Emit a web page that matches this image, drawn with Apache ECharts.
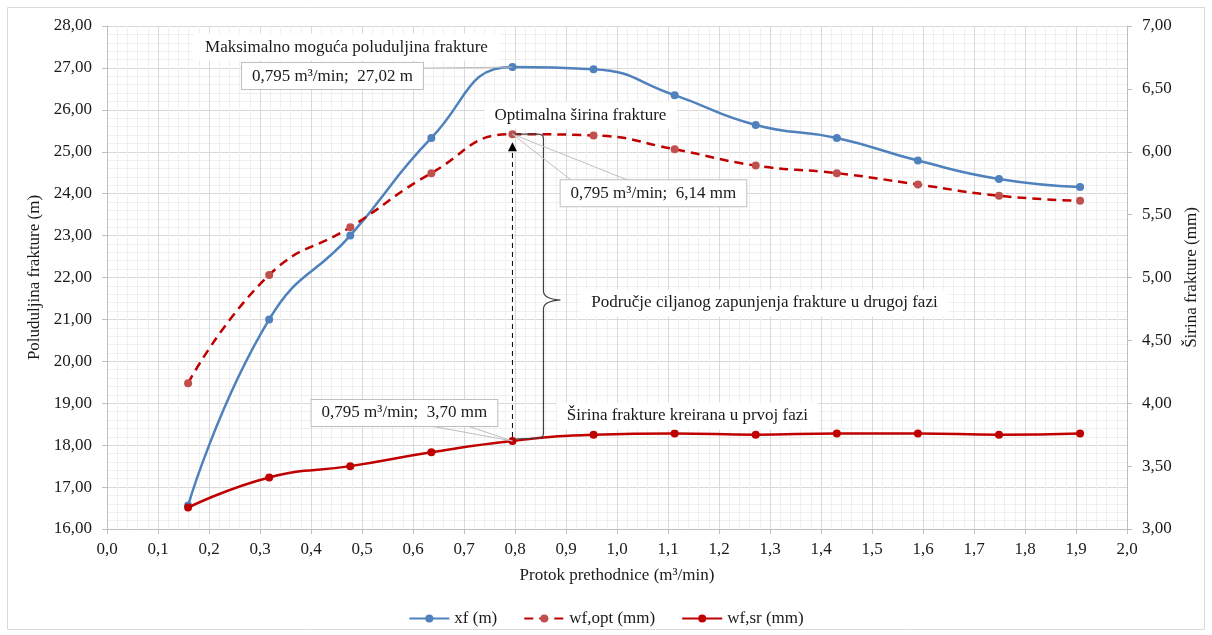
<!DOCTYPE html>
<html><head><meta charset="utf-8">
<script src="https://cdn.jsdelivr.net/npm/echarts@6/dist/echarts.min.js"></script>
<style>html,body{margin:0;padding:0;background:#fff}#c{width:1212px;height:635px}</style>
</head><body><div id="c"></div>
<script>
// ---- data ----
const flowRates   = [0.159, 0.318, 0.477, 0.636, 0.795, 0.954, 1.113, 1.272, 1.431, 1.590, 1.749, 1.908];
const xfValues    = [16.56, 21.00, 23.00, 25.33, 27.02, 26.97, 26.35, 25.64, 25.33, 24.79, 24.35, 24.16];
const wfOptValues = [4.16, 5.02, 5.40, 5.83, 6.14, 6.13, 6.02, 5.89, 5.83, 5.74, 5.65, 5.61];
const wfSrValues  = [3.17, 3.41, 3.50, 3.61, 3.70, 3.75, 3.76, 3.75, 3.76, 3.76, 3.75, 3.76];
const seriesNames = ['xf (m)', 'wf,opt (mm)', 'wf,sr (mm)'];
const axisNames   = ['Protok prethodnice (m³/min)', 'Poluduljina frakture (m)', 'Širina frakture (mm)'];
const optimumIndex = 4;
const annoMaxTitle = 'Maksimalno moguća poluduljina frakture';
const annoOptTitle = 'Optimalna širina frakture';
const annoSrTitle  = 'Širina frakture kreirana u prvoj fazi';
const annoRange    = 'Područje ciljanog zapunjenja frakture u drugoj fazi';

const FONT = '"Liberation Serif", "Times New Roman", serif';
const TXT = '#1a1a1a';
const fmt = (d) => (v) => v.toFixed(d).replace('.', ',');
const pairs = (ys) => flowRates.map((x, i) => [x, ys[i]]);

const chart = echarts.init(document.getElementById('c'), null, {renderer: 'canvas'});

const axisCommon = {
  axisLine: {show: true, lineStyle: {color: '#BFBFBF', width: 1}},
  axisTick: {show: true, inside: false, length: 5, lineStyle: {color: '#BFBFBF'}},
  axisLabel: {color: TXT, fontSize: 17, fontFamily: FONT},
  nameTextStyle: {color: TXT, fontSize: 17, fontFamily: FONT},
  minorTick: {show: false, splitNumber: 5},
};

chart.setOption({
  animation: false,
  backgroundColor: '#fff',
  grid: {left: 107, right: 85, top: 26, bottom: 106, containLabel: false},
  legend: {
    bottom: 3, left: 'center', itemWidth: 40, itemHeight: 10, itemGap: 26,
    textStyle: {color: TXT, fontSize: 17, fontFamily: FONT},
    data: seriesNames
  },
  xAxis: Object.assign({}, axisCommon, {
    type: 'value', min: 0, max: 2, interval: 0.1,
    name: axisNames[0], nameLocation: 'middle', nameGap: 38,
    axisLabel: Object.assign({}, axisCommon.axisLabel, {formatter: fmt(1), margin: 12}),
    splitLine: {show: true, lineStyle: {color: '#D9D9D9', width: 1}},
    minorSplitLine: {show: true, lineStyle: {color: '#EFEFEF', width: 1}}
  }),
  yAxis: [
    Object.assign({}, axisCommon, {
      type: 'value', min: 16, max: 28, interval: 1, position: 'left',
      name: axisNames[1], nameLocation: 'middle', nameGap: 62, nameRotate: 90,
      axisLabel: Object.assign({}, axisCommon.axisLabel, {formatter: fmt(2), margin: 15}),
      splitLine: {show: true, lineStyle: {color: '#D9D9D9', width: 1}},
      minorSplitLine: {show: true, lineStyle: {color: '#EFEFEF', width: 1}}
    }),
    Object.assign({}, axisCommon, {
      type: 'value', min: 3, max: 7, interval: 0.5, position: 'right',
      name: axisNames[2], nameLocation: 'middle', nameGap: 54, nameRotate: 90,
      axisLabel: Object.assign({}, axisCommon.axisLabel, {formatter: fmt(2), margin: 15}),
      splitLine: {show: false}
    })
  ],
  series: [
    {
      name: seriesNames[0], type: 'line', yAxisIndex: 0, data: pairs(xfValues),
      smooth: 0.5, symbol: 'circle', symbolSize: 8, z: 3,
      lineStyle: {color: '#4F81BD', width: 2.5},
      itemStyle: {color: '#4F81BD'}
    },
    {
      name: seriesNames[1], type: 'line', yAxisIndex: 1, data: pairs(wfOptValues),
      smooth: 0.5, symbol: 'circle', symbolSize: 8, z: 4,
      lineStyle: {color: '#C00000', width: 2.5, type: [9, 6]},
      itemStyle: {color: '#C0504D'}
    },
    {
      name: seriesNames[2], type: 'line', yAxisIndex: 1, data: pairs(wfSrValues),
      smooth: 0.5, symbol: 'circle', symbolSize: 8, z: 5,
      lineStyle: {color: '#C00000', width: 2.5},
      itemStyle: {color: '#C00000'}
    }
  ]
});

// ---- annotations anchored to data points ----
const x0 = flowRates[optimumIndex];
const P1 = chart.convertToPixel({xAxisIndex: 0, yAxisIndex: 0}, [x0, xfValues[optimumIndex]]);
const P2 = chart.convertToPixel({xAxisIndex: 0, yAxisIndex: 1}, [x0, wfOptValues[optimumIndex]]);
const P3 = chart.convertToPixel({xAxisIndex: 0, yAxisIndex: 1}, [x0, wfSrValues[optimumIndex]]);

const lbl1 = '0,795 m³/min;  ' + fmt(2)(xfValues[optimumIndex]) + ' m';
const lbl2 = '0,795 m³/min;  ' + fmt(2)(wfOptValues[optimumIndex]) + ' mm';
const lbl3 = '0,795 m³/min;  ' + fmt(2)(wfSrValues[optimumIndex]) + ' mm';

function plainText(text, cx, cy, padH) {
  return {type: 'text', z: 100, style: {
    text, x: cx, y: cy, align: 'center', verticalAlign: 'middle',
    fontSize: 17, fontFamily: FONT, fill: TXT,
    backgroundColor: '#fff', padding: [5, padH || 10, 5, padH || 10]
  }};
}
function boxText(text, cx, cy) {
  return {type: 'text', z: 100, style: {
    text, x: cx, y: cy, align: 'center', verticalAlign: 'middle',
    fontSize: 17, fontFamily: FONT, fill: TXT,
    backgroundColor: '#fff', borderColor: '#BFBFBF', borderWidth: 1, padding: [5, 10, 4, 10]
  }};
}
function leader(x1, y1, x2, y2) {
  return {type: 'line', z: 99, shape: {x1, y1, x2, y2}, style: {stroke: '#BFBFBF', lineWidth: 1}};
}
// sample a quadratic curve into points
function quad(a, c, b, n) {
  const pts = [];
  for (let i = 1; i <= n; i++) {
    const t = i / n, u = 1 - t;
    pts.push([u * u * a[0] + 2 * u * t * c[0] + t * t * b[0], u * u * a[1] + 2 * u * t * c[1] + t * t * b[1]]);
  }
  return pts;
}

const bx = P2[0] + 31, topY = P2[1], botY = P3[1] - 3, tipY = P3[1] - 141;
let bracePts = [[P2[0] + 2, topY], [bx - 5, topY]];
bracePts = bracePts.concat(quad([bx - 5, topY], [bx, topY], [bx, topY + 5], 6));
bracePts.push([bx, tipY - 9]);
bracePts = bracePts.concat(quad([bx, tipY - 9], [bx, tipY - 1], [bx + 17, tipY], 8));
bracePts = bracePts.concat(quad([bx + 17, tipY], [bx, tipY + 1], [bx, tipY + 9], 8));
bracePts.push([bx, botY - 5]);
bracePts = bracePts.concat(quad([bx, botY - 5], [bx, botY], [bx - 5, botY], 6));
bracePts.push([P3[0] + 2, botY + 1]);

chart.setOption({
  graphic: [
    {type: 'rect', z: 0, silent: true, shape: {x: 7.5, y: 7.5, width: 1197, height: 622},
     style: {fill: 'none', stroke: '#D9D9D9', lineWidth: 1}},
    // max xf
    plainText(annoMaxTitle, P1[0] - 166, P1[1] - 20, 12),
    leader(P1[0] - 91, P1[1] + 1, P1[0], P1[1]),
    boxText(lbl1, P1[0] - 180, P1[1] + 9),
    // optimal width
    plainText(annoOptTitle, P2[0] + 68, P2[1] - 19, 10),
    leader(P2[0], P2[1], P2[0] + 60, P2[1] + 47),
    leader(P2[0], P2[1], P2[0] + 118, P2[1] + 47),
    boxText(lbl2, P2[0] + 141, P2[1] + 59),
    // first phase width
    leader(P3[0] - 82, P3[1] - 15, P3[0], P3[1]),
    leader(P3[0] - 45, P3[1] - 15, P3[0], P3[1]),
    boxText(lbl3, P3[0] - 108, P3[1] - 28),
    plainText(annoSrTitle, P3[0] + 175, P3[1] - 25, 10),
    // range brace + arrow
    {type: 'polyline', z: 98, shape: {points: bracePts}, style: {fill: null, stroke: '#404040', lineWidth: 1.2}},
    plainText(annoRange, P3[0] + 252, tipY + 3, 11),
    {type: 'line', z: 98, shape: {x1: P3[0], y1: P3[1] - 4, x2: P2[0], y2: P2[1] + 16},
     style: {stroke: '#000', lineWidth: 1, lineDash: [5, 4]}},
    {type: 'polygon', z: 98, shape: {points: [[P2[0], P2[1] + 8], [P2[0] - 4.5, P2[1] + 17], [P2[0] + 4.5, P2[1] + 17]]},
     style: {fill: '#000'}}
  ]
});
</script></body></html>
